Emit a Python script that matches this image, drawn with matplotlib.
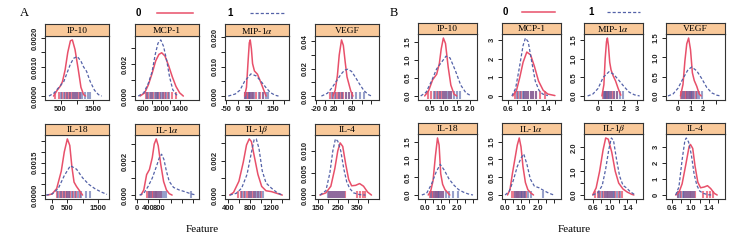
import matplotlib.pyplot as plt
from matplotlib.lines import Line2D
from matplotlib.transforms import blended_transform_factory

W, H = 734, 240
RED = "#e8506a"
BLUE = "#5462a8"
STRIP = "#f9c99a"

plt.rcParams["mathtext.fontset"] = "stix"

titles = ["IP-10", "MCP-1", r"MIP-1$\alpha$", "VEGF",
          "IL-18", r"IL-1$\alpha$", r"IL-1$\beta$", "IL-4"]

# ---- panel A: raw values, density curves (x, y) ----
a_ip10_0 = ([290, 400, 500, 560, 640, 720, 800, 860, 940, 1040, 1120, 1200, 1260],
            [0, 0.0002, 0.00035, 0.0005, 0.0009, 0.0015, 0.0019, 0.00193, 0.0016, 0.0009, 0.0003, 0.00005, 0])
a_ip10_1 = ([150, 300, 450, 600, 700, 800, 900, 1010, 1120, 1200, 1290, 1400, 1530, 1650, 1750],
            [0, 0.0001, 0.0003, 0.0005, 0.0008, 0.0011, 0.0013, 0.00136, 0.0012, 0.001, 0.00085, 0.0005, 0.0002, 0.00005, 0])
a_mcp1_0 = ([540, 640, 720, 800, 880, 950, 1010, 1080, 1160, 1240, 1320, 1400, 1480],
            [0, 0.0002, 0.0007, 0.0014, 0.0022, 0.0026, 0.0027, 0.0025, 0.0019, 0.0012, 0.0006, 0.0002, 0])
a_mcp1_1 = ([500, 620, 720, 800, 870, 930, 990, 1050, 1120, 1180, 1250, 1320, 1380],
            [0, 0.0002, 0.0008, 0.0015, 0.0026, 0.0033, 0.0035, 0.0031, 0.0022, 0.0012, 0.0004, 0.0001, 0])
a_mip_0 = ([30, 38, 45, 50, 54, 59, 64, 72, 85, 100, 112, 122],
           [0, 0.003, 0.012, 0.018, 0.019, 0.016, 0.011, 0.0085, 0.0074, 0.0045, 0.002, 0])
a_mip_1 = ([-40, -10, 10, 30, 57, 80, 100, 120, 140, 160, 175],
           [0, 0.0007, 0.002, 0.005, 0.0075, 0.0068, 0.005, 0.003, 0.0012, 0.0003, 0])
a_vegf_0 = ([17, 22, 27, 31, 36, 40, 44, 48, 52, 56, 61],
            [0, 0.004, 0.015, 0.03, 0.041, 0.037, 0.025, 0.014, 0.009, 0.004, 0])
a_vegf_1 = ([-8, 5, 15, 25, 35, 43, 50, 58, 66, 75, 85, 95, 102],
            [0, 0.002, 0.006, 0.011, 0.016, 0.019, 0.0196, 0.018, 0.014, 0.009, 0.004, 0.001, 0])
a_il18_0 = ([-150, 0, 150, 300, 400, 500, 580, 650, 720, 800, 900, 1000],
            [0, 0.00005, 0.0003, 0.0011, 0.002, 0.0026, 0.0023, 0.0013, 0.0006, 0.0004, 0.0002, 0])
a_il18_1 = ([-200, 0, 200, 400, 600, 800, 1000, 1200, 1400, 1600, 1800],
            [0, 0.00005, 0.0003, 0.0009, 0.00136, 0.0012, 0.0008, 0.0005, 0.0003, 0.00015, 0.00003])
a_il1a_0 = ([150, 250, 350, 450, 550, 620, 690, 760, 850, 950, 1050, 1150, 1250],
            [0, 0.0003, 0.0012, 0.0015, 0.0022, 0.003, 0.0033, 0.0029, 0.0018, 0.0008, 0.0003, 0.00008, 0])
a_il1a_1 = ([100, 250, 400, 550, 700, 800, 880, 960, 1050, 1150, 1300, 1500, 1700, 1900, 2100],
            [0, 0.0001, 0.0005, 0.001, 0.0017, 0.0022, 0.0024, 0.0021, 0.0014, 0.0008, 0.00045, 0.0003, 0.0002, 0.00008, 0])
a_il1b_0 = ([430, 500, 600, 680, 740, 790, 830, 880, 950, 1020, 1100, 1200, 1300, 1400],
            [0, 0.00015, 0.0008, 0.0019, 0.0029, 0.00325, 0.0031, 0.0023, 0.0012, 0.0005, 0.00025, 0.0002, 0.0001, 0])
a_il1b_1 = ([430, 550, 650, 750, 820, 880, 920, 970, 1030, 1100, 1200, 1300, 1400],
            [0, 0.0001, 0.0004, 0.0012, 0.0023, 0.0032, 0.00325, 0.0027, 0.0014, 0.0007, 0.0004, 0.00015, 0])
a_il4_0 = ([160, 190, 215, 235, 250, 262, 275, 290, 305, 320, 340, 360, 380, 400, 420],
           [0, 0.0005, 0.002, 0.006, 0.01, 0.0118, 0.011, 0.007, 0.0035, 0.0021, 0.0022, 0.0026, 0.002, 0.0007, 0])
a_il4_1 = ([160, 190, 210, 225, 238, 250, 265, 280, 295, 310, 330, 360, 390],
           [0, 0.001, 0.005, 0.01, 0.0127, 0.0122, 0.01, 0.006, 0.003, 0.0015, 0.0005, 0.0001, 0])

# rug values (group 0 / group 1)
a_rug_0 = [[330, 450, 560, 640, 700, 760, 800, 850, 900, 960, 1020, 1100],
           [660, 720, 780, 830, 880, 930, 980, 1030, 1090, 1150, 1230, 1330],
           [32, 40, 45, 50, 55, 60, 68, 80, 95, 110],
           [10, 18, 24, 28, 32, 36, 40, 45, 52, 60],
           [150, 250, 330, 400, 450, 500, 550, 600, 680, 780, 900],
           [380, 430, 480, 530, 580, 630, 680, 730, 790, 850],
           [580, 640, 700, 740, 780, 820, 860, 900, 950, 1000],
           [205, 215, 225, 235, 245, 255, 265, 275, 285, 345, 360, 375, 385]]
a_rug_1 = [[520, 620, 700, 780, 870, 940, 1000, 1080, 1150, 1230, 1320, 1400],
           [700, 760, 810, 860, 900, 940, 990, 1040, 1100, 1160],
           [30, 38, 48, 55, 62, 72, 90, 110, 120, 130],
           [15, 22, 30, 38, 45, 52, 60, 68, 76, 85],
           [200, 300, 400, 480, 560, 650, 750, 850, 950, 1100, 1250],
           [450, 520, 600, 680, 750, 820, 880, 950, 1030, 1900],
           [650, 720, 780, 830, 870, 910, 950, 990, 1040],
           [200, 210, 220, 230, 240, 250, 260, 270, 280]]

# ---- panel B: normalised values ----
b_ip10_0 = ([0.3, 0.45, 0.6, 0.75, 0.85, 0.92, 1.0, 1.08, 1.18, 1.28, 1.4, 1.5],
            [0, 0.15, 0.45, 0.6, 0.9, 1.3, 1.6, 1.45, 0.8, 0.3, 0.05, 0])
b_ip10_1 = ([0.15, 0.35, 0.55, 0.75, 0.95, 1.1, 1.25, 1.45, 1.65, 1.85, 2.05],
            [0, 0.1, 0.4, 0.75, 0.95, 1.1, 1.05, 0.7, 0.3, 0.08, 0])
b_mcp1_0 = ([0.7, 0.78, 0.85, 0.92, 1.0, 1.08, 1.16, 1.25, 1.35, 1.45, 1.6],
            [0, 0.3, 1.0, 1.8, 2.35, 2.2, 1.6, 0.8, 0.3, 0.1, 0.02])
b_mcp1_1 = ([0.68, 0.76, 0.84, 0.92, 0.97, 1.03, 1.1, 1.18, 1.26, 1.34, 1.45],
            [0, 0.4, 1.5, 2.7, 3.1, 2.9, 1.9, 0.8, 0.3, 0.1, 0.02])
b_mip_0 = ([0.3, 0.45, 0.55, 0.65, 0.72, 0.8, 0.9, 1.0, 1.15, 1.35, 1.55, 1.75],
           [0, 0.3, 1.0, 1.45, 1.55, 1.35, 0.9, 0.7, 0.55, 0.4, 0.2, 0.02])
b_mip_1 = ([-0.8, -0.4, 0, 0.4, 0.85, 1.2, 1.6, 2.0, 2.4, 2.8, 3.2],
           [0, 0.05, 0.2, 0.5, 0.65, 0.58, 0.42, 0.25, 0.1, 0.03, 0])
b_vegf_0 = ([0.2, 0.4, 0.55, 0.7, 0.85, 1.0, 1.15, 1.3, 1.5, 1.7, 1.85],
            [0, 0.3, 0.9, 1.35, 1.5, 1.2, 0.6, 0.4, 0.25, 0.05, 0])
b_vegf_1 = ([-0.8, -0.4, 0, 0.4, 0.8, 1.1, 1.5, 1.9, 2.3, 2.7, 3.1, 3.4],
            [0, 0.05, 0.2, 0.45, 0.68, 0.75, 0.65, 0.45, 0.22, 0.08, 0.02, 0])
b_il18_0 = ([0.2, 0.35, 0.5, 0.65, 0.78, 0.88, 0.98, 1.1, 1.25, 1.45, 1.55],
            [0, 0.1, 0.4, 1.1, 1.6, 1.4, 0.6, 0.3, 0.15, 0.05, 0])
b_il18_1 = ([-0.2, 0.1, 0.4, 0.7, 0.95, 1.2, 1.5, 1.8, 2.1, 2.4, 2.7, 3.0],
            [0, 0.05, 0.3, 0.65, 0.86, 0.7, 0.45, 0.28, 0.15, 0.08, 0.03, 0])
b_il1a_0 = ([0.15, 0.3, 0.45, 0.6, 0.75, 0.87, 0.98, 1.1, 1.25, 1.4, 1.6, 1.75],
            [0, 0.15, 0.6, 1.0, 1.4, 1.6, 1.35, 0.8, 0.35, 0.15, 0.05, 0])
b_il1a_1 = ([0.0, 0.25, 0.5, 0.75, 1.0, 1.15, 1.35, 1.55, 1.8, 2.1, 2.4, 2.7, 3.0],
            [0, 0.1, 0.4, 0.8, 1.05, 1.15, 0.85, 0.45, 0.25, 0.2, 0.12, 0.05, 0])
b_il1b_0 = ([0.6, 0.68, 0.76, 0.84, 0.9, 0.96, 1.04, 1.12, 1.2, 1.3, 1.4, 1.5, 1.55],
            [0, 0.3, 1.0, 1.9, 2.4, 2.35, 1.8, 1.0, 0.5, 0.25, 0.12, 0.03, 0])
b_il1b_1 = ([0.6, 0.72, 0.82, 0.9, 0.97, 1.03, 1.08, 1.15, 1.22, 1.3, 1.38, 1.46, 1.58],
            [0, 0.1, 0.4, 1.1, 1.9, 2.4, 2.3, 1.5, 0.8, 0.4, 0.3, 0.15, 0])
b_il4_0 = ([0.68, 0.75, 0.82, 0.9, 0.97, 1.0, 1.05, 1.1, 1.16, 1.22, 1.3, 1.37, 1.44, 1.52, 1.58],
           [0, 0.15, 0.7, 1.9, 3.0, 3.15, 2.9, 1.8, 0.8, 0.45, 0.5, 0.58, 0.4, 0.1, 0])
b_il4_1 = ([0.68, 0.75, 0.82, 0.88, 0.91, 0.96, 1.02, 1.08, 1.14, 1.2, 1.28, 1.38, 1.45],
           [0, 0.5, 2.2, 3.4, 3.55, 3.3, 2.5, 1.3, 0.6, 0.25, 0.1, 0.02, 0])

b_rug_0 = [[0.42, 0.55, 0.7, 0.8, 0.88, 0.95, 1.02, 1.1, 1.2, 1.28],
           [0.75, 0.82, 0.88, 0.93, 0.98, 1.03, 1.08, 1.14, 1.2, 1.28, 1.38],
           [0.4, 0.5, 0.58, 0.65, 0.72, 0.8, 0.9, 1.05, 1.25, 1.45],
           [0.2, 0.4, 0.55, 0.65, 0.75, 0.85, 0.95, 1.05, 1.2, 1.4],
           [0.3, 0.42, 0.52, 0.6, 0.68, 0.75, 0.82, 0.9, 1.0, 1.15],
           [0.45, 0.55, 0.65, 0.72, 0.8, 0.88, 0.95, 1.05, 1.15, 1.3],
           [0.66, 0.72, 0.78, 0.83, 0.88, 0.92, 0.96, 1.0, 1.05, 1.12, 1.2, 1.27],
           [0.74, 0.8, 0.86, 0.9, 0.94, 0.98, 1.02, 1.06, 1.1, 1.28, 1.35, 1.42, 1.48]]
b_rug_1 = [[0.65, 0.78, 0.88, 0.97, 1.05, 1.12, 1.2, 1.3, 1.4, 1.5, 1.62],
           [0.8, 0.86, 0.91, 0.95, 0.99, 1.03, 1.08, 1.14, 1.2],
           [0.45, 0.55, 0.65, 0.75, 0.85, 1.0, 1.2, 1.45, 1.7, 1.9],
           [0.3, 0.5, 0.7, 0.85, 1.0, 1.15, 1.3, 1.5, 1.7, 1.9],
           [0.4, 0.55, 0.68, 0.8, 0.9, 1.0, 1.15, 1.3, 1.5, 1.75, 2.05],
           [0.6, 0.72, 0.85, 0.95, 1.05, 1.15, 1.25, 1.4, 1.6, 2.35],
           [0.75, 0.82, 0.88, 0.93, 0.98, 1.02, 1.06, 1.1, 1.15, 1.22],
           [0.72, 0.78, 0.83, 0.87, 0.91, 0.95, 0.99, 1.03, 1.07]]

a_curves = [(a_ip10_0, a_ip10_1), (a_mcp1_0, a_mcp1_1), (a_mip_0, a_mip_1), (a_vegf_0, a_vegf_1),
            (a_il18_0, a_il18_1), (a_il1a_0, a_il1a_1), (a_il1b_0, a_il1b_1), (a_il4_0, a_il4_1)]
b_curves = [(b_ip10_0, b_ip10_1), (b_mcp1_0, b_mcp1_1), (b_mip_0, b_mip_1), (b_vegf_0, b_vegf_1),
            (b_il18_0, b_il18_1), (b_il1a_0, b_il1a_1), (b_il1b_0, b_il1b_1), (b_il4_0, b_il4_1)]

# axis scales: (xlim, xticks, xlabels, yticks, ylabels)
a_axes = [
    ((30, 1970), [500, 1000, 1500], ["500", "", "1500"],
     [0, 0.0005, 0.001, 0.0015, 0.002], ["0.0000", "", "0.0010", "", "0.0020"]),
    ((430, 1820), [600, 800, 1000, 1200, 1400], ["600", "", "1000", "", "1400"],
     [0, 0.001, 0.002, 0.003], ["0.000", "", "0.002", ""]),
    ((-54, 220), [-50, 0, 50, 100, 150, 200], ["-50", "0", "50", "", "150", ""],
     [0, 0.005, 0.01, 0.015, 0.02], ["0.000", "", "0.010", "", "0.020"]),
    ((-22, 118), [-20, 0, 20, 40, 60, 80, 100], ["-20", "0", "20", "", "60", "", ""],
     [0, 0.01, 0.02, 0.03, 0.04], ["0.00", "", "0.02", "", "0.04"]),
    ((-233, 1867), [0, 500, 1000, 1500], ["0", "500", "", "1500"],
     [0, 0.0005, 0.001, 0.0015, 0.002, 0.0025], ["0.0000", "", "", "0.0015", "", ""]),
    ((-60, 2200), [0, 400, 800, 1200, 1600, 2000], ["0", "400", "800", "", "", ""],
     [0, 0.001, 0.002, 0.003], ["0.000", "", "0.002", ""]),
    ((343, 1524), [400, 600, 800, 1000, 1200, 1400], ["400", "", "800", "", "1200", ""],
     [0, 0.001, 0.002, 0.003], ["0.000", "", "0.002", ""]),
    ((135, 458), [150, 200, 250, 300, 350, 400], ["150", "", "250", "", "350", ""],
     [0, 0.005, 0.01], ["0.000", "0.005", "0.010"]),
]
b_axes = [
    ((0.05, 2.26), [0.5, 1.0, 1.5, 2.0], ["0.5", "1.0", "1.5", "2.0"],
     [0, 0.5, 1.0, 1.5], ["0.0", "0.5", "1.0", "1.5"]),
    ((0.47, 1.73), [0.6, 0.8, 1.0, 1.2, 1.4, 1.6], ["0.6", "", "1.0", "", "1.4", ""],
     [0, 1, 2, 3], ["0", "1", "2", "3"]),
    ((-1.08, 3.46), [0, 1, 2, 3], ["0", "1", "2", "3"],
     [0, 0.5, 1.0, 1.5], ["0.0", "0.5", "1.0", "1.5"]),
    ((-0.96, 3.76), [0, 1, 2, 3], ["0", "1", "2", ""],
     [0, 0.5, 1.0, 1.5], ["0.0", "0.5", "1.0", "1.5"]),
    ((-0.44, 3.25), [0, 0.5, 1.0, 1.5, 2.0, 2.5, 3.0], ["0.0", "", "1.0", "", "2.0", "", ""],
     [0, 0.5, 1.0, 1.5], ["0.0", "0.5", "1.0", "1.5"]),
    ((-0.19, 3.44), [0, 0.5, 1.0, 1.5, 2.0, 2.5, 3.0], ["0.0", "", "1.0", "", "2.0", "", ""],
     [0, 0.5, 1.0, 1.5], ["0.0", "0.5", "1.0", "1.5"]),
    ((0.4, 1.76), [0.6, 0.8, 1.0, 1.2, 1.4, 1.6], ["0.6", "", "1.0", "", "1.4", ""],
     [0, 0.5, 1.0, 1.5, 2.0], ["0.0", "", "1.0", "", "2.0"]),
    ((0.47, 1.75), [0.6, 0.8, 1.0, 1.2, 1.4, 1.6], ["0.6", "", "1.0", "", "1.4", ""],
     [0, 1, 2, 3], ["0", "1", "2", "3"]),
]

# pixel layout: column lefts, width, rows (strip top, plot top, plot bottom)
a_cols, a_w = [45, 135, 225, 315], 64
a_rows = [(24, 36, 100), (124, 135, 199)]
b_cols, b_w = [418, 502, 584, 666], 59
b_rows = [(23, 34, 100), (123, 134, 199)]

TICK_FONT = dict(family="Liberation Sans", size=5.5, weight="semibold")


def draw_panel(fig, x0, w, row, title, curves, rug0, rug1, scale):
    s_top, p_top, p_bot = row
    xlim, xticks, xlabels, yticks, ylabels = scale
    ax = fig.add_axes([x0 / W, 1 - p_bot / H, w / W, (p_bot - p_top) / H])
    st = fig.add_axes([x0 / W, 1 - p_top / H, w / W, (p_top - s_top) / H])
    st.set_facecolor(STRIP)
    st.set_xticks([])
    st.set_yticks([])
    for sp in st.spines.values():
        sp.set_linewidth(0.8)
        sp.set_color("#333333")
    st.text(0.5, 0.45, title, ha="center", va="center", fontsize=6.8,
            family="Liberation Serif", transform=st.transAxes)

    c0, c1 = curves
    trans = blended_transform_factory(ax.transData, ax.transAxes)
    ax.vlines(rug0, 0.02, 0.13, transform=trans, color=RED, lw=1.5, alpha=0.75)
    ax.vlines(rug1, 0.02, 0.13, transform=trans, color=BLUE, lw=1.5, alpha=0.6)
    ax.plot(c0[0], c0[1], color=RED, lw=1.1, solid_capstyle="round")
    ax.plot(c1[0], c1[1], color=BLUE, lw=0.9, dashes=(2.5, 1.6))

    ymax = max(max(c0[1]), max(c1[1]))
    ax.set_ylim(-0.07 * ymax, 1.07 * ymax)
    ax.set_xlim(*xlim)
    ax.set_xticks(xticks)
    ax.set_xticklabels(xlabels, fontdict=TICK_FONT)
    ax.set_yticks(yticks)
    ax.set_yticklabels(ylabels, fontdict=TICK_FONT, rotation=90, va="center")
    ax.tick_params(direction="out", length=3, width=0.7, pad=1.5, colors="#222222")
    for sp in ax.spines.values():
        sp.set_linewidth(0.8)
        sp.set_color("#333333")


def draw_legend(fig, x_text0, x_line0, x_text1, x_line1, y):
    fy = 1 - y / H
    fig.text(x_text0 / W, fy, "0", ha="center", va="center", fontsize=7,
             family="Liberation Sans", weight="bold")
    fig.text(x_text1 / W, fy, "1", ha="center", va="center", fontsize=7,
             family="Liberation Sans", weight="bold")
    fig.add_artist(Line2D([x_line0[0] / W, x_line0[1] / W], [fy, fy], color=RED, lw=1.1))
    fig.add_artist(Line2D([x_line1[0] / W, x_line1[1] / W], [fy, fy], color=BLUE, lw=0.9,
                          dashes=(2.5, 1.6)))


fig = plt.figure(figsize=(W / 100, H / 100), dpi=100)

for i in range(8):
    r, c = divmod(i, 4)
    draw_panel(fig, a_cols[c], a_w, a_rows[r], titles[i], a_curves[i],
               a_rug_0[i], a_rug_1[i], a_axes[i])
    draw_panel(fig, b_cols[c], b_w, b_rows[r], titles[i], b_curves[i],
               b_rug_0[i], b_rug_1[i], b_axes[i])

fig.text(24 / W, 1 - 13 / H, "A", ha="center", va="center", fontsize=9, family="Liberation Serif")
fig.text(394 / W, 1 - 13 / H, "B", ha="center", va="center", fontsize=9, family="Liberation Serif")
fig.text(202 / W, 1 - 230 / H, "Feature", ha="center", va="center", fontsize=8,
         family="Liberation Serif")
fig.text(574 / W, 1 - 230 / H, "Feature", ha="center", va="center", fontsize=8,
         family="Liberation Serif")

draw_legend(fig, 138, (157, 193), 230, (250, 285), 13)
draw_legend(fig, 505, (522, 555), 591, (607, 640), 12)

fig.savefig("out.png", dpi=100)
